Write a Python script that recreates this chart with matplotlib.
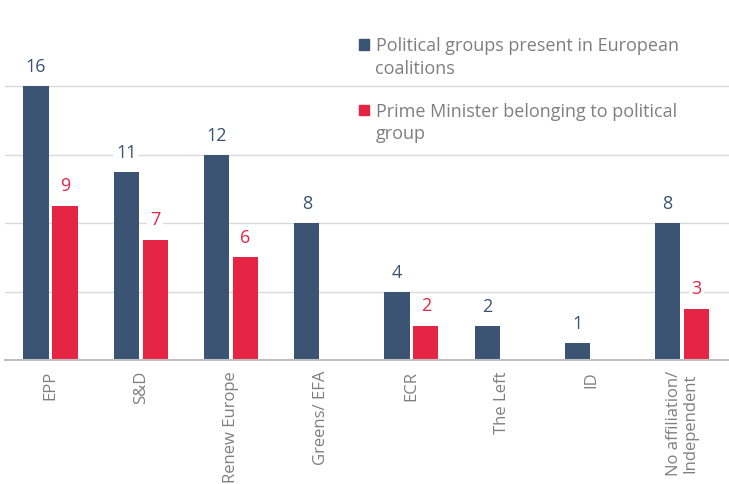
import numpy as np
import matplotlib.pyplot as plt
from matplotlib.patches import Patch, Rectangle
from matplotlib.legend_handler import HandlerPatch

plt.rcParams['font.family'] = ['Open Sans', 'DejaVu Sans']

groups = ["EPP", "S&D", "Renew Europe", "Greens/ EFA", "ECR", "The Left", "ID",
          "No affiliation/\nIndependent"]
coalitions = [16, 11, 12, 8, 4, 2, 1, 8]
prime_ministers = [9, 7, 6, 0, 2, 0, 0, 3]
series_names = ["Political groups present in European\ncoalitions",
                "Prime Minister belonging to political\ngroup"]

navy = "#3c5474"
red = "#e62545"
grey = "#7f7f7f"

fig = plt.figure(figsize=(7.29, 4.84), dpi=100)
ax = fig.add_axes([5 / 729, 1 - 360 / 484, 724 / 729, 342.5 / 484])

x = np.arange(len(groups))
w = 0.28
off = 0.16
ax.bar(x - off, coalitions, w, color=navy, zorder=2)
ax.bar(x + off, prime_ministers, w, color=red, zorder=2)

for xi, v in zip(x, coalitions):
    ax.text(xi - off, v + 1.1, str(v), ha="center", va="center", color=navy,
            fontsize=13, zorder=3,
            bbox=dict(facecolor="white", edgecolor="none", pad=2))
for xi, v in zip(x, prime_ministers):
    if v > 0:
        ax.text(xi + off, v + 1.15, str(v), ha="center", va="center", color=red,
                fontsize=13, zorder=3,
                bbox=dict(facecolor="white", edgecolor="none", pad=2))

ax.set_xlim(-0.505, 7.52)
ax.set_ylim(0, 20)
ax.set_yticks([4, 8, 12, 16])
ax.set_yticklabels([])
ax.tick_params(axis="y", length=0)
ax.grid(axis="y", color="#d9d9d9", linewidth=1, zorder=0)

ax.set_xticks(x)
ax.set_xticklabels(groups, rotation=90, va="top", ha="center", color=grey,
                   fontsize=12, linespacing=1.0)
ax.tick_params(axis="x", length=0, pad=8)

for s in ["top", "right", "left"]:
    ax.spines[s].set_visible(False)
ax.spines["bottom"].set_color("#bfbfbf")
ax.spines["bottom"].set_linewidth(1.5)


def top_square(legend, orig_handle, xdescent, ydescent, width, height, fontsize):
    # put the square next to the first line of a two-line label
    return Rectangle((-xdescent, -ydescent + 0.75 * fontsize), width, height)


handles = [Patch(color=navy), Patch(color=red)]
leg = fig.legend(handles, series_names, loc="upper left",
                 bbox_to_anchor=(343 / 729, 1 - 21 / 484), frameon=False,
                 fontsize=13, labelcolor=grey, handlelength=0.55, handleheight=0.55,
                 handletextpad=0.35, labelspacing=1.35,
                 handler_map={Patch: HandlerPatch(patch_func=top_square)})
for t in leg.get_texts():
    t.set_linespacing(1.35)

fig.savefig("out.png", dpi=100)
